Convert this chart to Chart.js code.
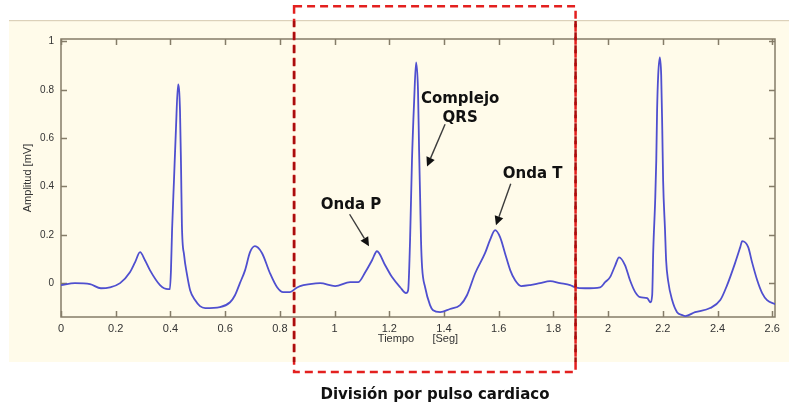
<!DOCTYPE html>
<html>
<head>
<meta charset="utf-8">
<script src="https://cdn.jsdelivr.net/npm/chart.js@4.4.1/dist/chart.umd.min.js"></script>
<style>
  html, body { margin: 0; padding: 0; background: #fff; }
  #ecg { display: block; }
</style>
</head>
<body>
<canvas id="ecg" width="789" height="402"></canvas>
<script>
// señal ECG: tiempo [s] y amplitud [mV]
const timeSec = [
  0, 0.051, 0.106, 0.146, 0.179, 0.216, 0.252, 0.271, 0.289, 0.307, 0.325, 0.362, 0.391, 0.398,
  0.402, 0.406, 0.413, 0.420, 0.428, 0.435, 0.439, 0.442, 0.450, 0.461, 0.472, 0.490, 0.508, 0.527,
  0.581, 0.618, 0.636, 0.654, 0.673, 0.691, 0.709, 0.735, 0.764, 0.790, 0.812, 0.837, 0.859, 0.874,
  0.910, 0.947, 1.002, 1.057, 1.086, 1.112, 1.137, 1.155, 1.185, 1.210, 1.240, 1.261, 1.269, 1.276,
  1.283, 1.291, 1.298, 1.305, 1.309, 1.313, 1.316, 1.320, 1.331, 1.349, 1.360, 1.386, 1.422, 1.459,
  1.484, 1.514, 1.550, 1.568, 1.587, 1.605, 1.623, 1.642, 1.660, 1.682, 1.715, 1.751, 1.788, 1.824,
  1.861, 1.879, 1.916, 1.971, 1.989, 2.007, 2.026, 2.040, 2.062, 2.080, 2.099, 2.117, 2.143, 2.154,
  2.161, 2.165, 2.172, 2.176, 2.179, 2.183, 2.189, 2.194, 2.198, 2.201, 2.208, 2.212, 2.219, 2.234,
  2.252, 2.271, 2.282, 2.318, 2.373, 2.410, 2.435, 2.464, 2.483, 2.490, 2.512, 2.526, 2.545, 2.563,
  2.581, 2.611
];
const amplitudeMv = [
  -0.008, 0, -0.004, -0.021, -0.017, 0, 0.045, 0.087, 0.128, 0.095, 0.054, -0.008, -0.025, -0.025,
  0.054, 0.219, 0.426, 0.632, 0.822, 0.715, 0.467, 0.240, 0.116, 0.033, -0.029, -0.070, -0.095, -0.103,
  -0.099, -0.079, -0.050, 0, 0.054, 0.128, 0.153, 0.124, 0.041, -0.017, -0.037, -0.037, -0.021, -0.012,
  -0.004, 0, -0.012, 0.004, 0.004, 0.045, 0.095, 0.132, 0.074, 0.025, -0.017, -0.041, -0.029, 0.178,
  0.508, 0.756, 0.913, 0.798, 0.550, 0.343, 0.178, 0.066, -0.017, -0.091, -0.112, -0.120, -0.107, -0.091,
  -0.050, 0.041, 0.124, 0.178, 0.219, 0.190, 0.124, 0.054, 0.012, -0.012, -0.008, 0, 0.008, 0,
  -0.008, -0.017, -0.021, -0.017, 0.004, 0.025, 0.074, 0.107, 0.074, 0.012, -0.037, -0.058, -0.062, -0.079,
  -0.050, 0.136, 0.343, 0.508, 0.715, 0.860, 0.934, 0.860, 0.632, 0.426, 0.219, 0.095, 0.012, -0.070,
  -0.120, -0.132, -0.136, -0.120, -0.103, -0.070, -0.008, 0.083, 0.149, 0.174, 0.149, 0.087, 0.012, -0.041,
  -0.070, -0.087
];

const xTickValues = [0, 0.2, 0.4, 0.6, 0.8, 1, 1.2, 1.4, 1.6, 1.8, 2, 2.2, 2.4, 2.6];
const xTickLabels = ['0', '0.2', '0.4', '0.6', '0.8', '1', '1.2', '1.4', '1.6', '1.8', '2', '2.2', '2.4', '2.6'];
const yTickValues = [0, 0.2, 0.4, 0.6, 0.8, 1];
const yTickLabels = ['0', '0.2', '0.4', '0.6', '0.8', '1'];

// etiquetas con flecha (coordenadas de datos)
const notes = [
  { lines: ['Complejo', 'QRS'], at: [1.459, 0.744], from: [1.404, 0.657], to: [1.338, 0.483] },
  { lines: ['Onda T'], at: [1.724, 0.433], from: [1.644, 0.411], to: [1.590, 0.240] },
  { lines: ['Onda P'], at: [1.060, 0.306], from: [1.055, 0.285], to: [1.126, 0.153] }
];
// recuadro de un pulso
const pulseBox = { t0: 0.852, t1: 1.881, v0: -0.368, v1: 1.145 };

const AXIS_COLOR = '#857c68';
const TEXT_COLOR = '#333333';

function arrow(ctx, x1, y1, x2, y2) {
    const ang = Math.atan2(y2 - y1, x2 - x1);
    const len = 9, half = 4.5;
    const bx = x2 - Math.cos(ang) * len, by = y2 - Math.sin(ang) * len;
    ctx.strokeStyle = '#3c3c3c';
    ctx.lineWidth = 1.4;
    ctx.beginPath();
    ctx.moveTo(x1, y1);
    ctx.lineTo(bx, by);
    ctx.stroke();
    ctx.fillStyle = '#111';
    ctx.beginPath();
    ctx.moveTo(x2, y2);
    ctx.lineTo(bx + Math.sin(ang) * half, by - Math.cos(ang) * half);
    ctx.lineTo(bx - Math.sin(ang) * half, by + Math.cos(ang) * half);
    ctx.closePath();
    ctx.fill();
}

const decor = {
    id: 'decor',
    beforeDraw(chart) {
        const ctx = chart.ctx;
        ctx.save();
        ctx.fillStyle = '#ffffff';
        ctx.fillRect(0, 0, chart.width, chart.height);
        ctx.fillStyle = '#fffbea';
        ctx.fillRect(9, 20, chart.width - 9, 342);
        ctx.fillStyle = '#dcd1ba';
        ctx.fillRect(9, 20, chart.width - 9, 1.2);
        ctx.restore();
    },
    beforeDatasetsDraw(chart) {
        const { ctx, chartArea: a, scales: { x, y } } = chart;
        ctx.save();
        ctx.strokeStyle = AXIS_COLOR;
        ctx.lineWidth = 1.5;
        ctx.strokeRect(a.left, a.top, a.right - a.left, a.bottom - a.top);
        const tl = 6;
        ctx.beginPath();
        xTickValues.forEach(v => {
            const px = Math.round(x.getPixelForValue(v)) + 0.5;
            ctx.moveTo(px, a.bottom); ctx.lineTo(px, a.bottom - tl);
            ctx.moveTo(px, a.top); ctx.lineTo(px, a.top + tl);
        });
        yTickValues.forEach(v => {
            const py = Math.round(y.getPixelForValue(v)) + 0.5;
            ctx.moveTo(a.left, py); ctx.lineTo(a.left + tl, py);
            ctx.moveTo(a.right, py); ctx.lineTo(a.right - tl, py);
        });
        ctx.stroke();

        // títulos de ejes
        ctx.fillStyle = TEXT_COLOR;
        ctx.font = '11px "Liberation Sans", Arial, sans-serif';
        ctx.textAlign = 'center';
        ctx.textBaseline = 'middle';
        ctx.fillText('Tiempo      [Seg]', (a.left + a.right) / 2, 339);
        ctx.translate(28, (a.top + a.bottom) / 2);
        ctx.rotate(-Math.PI / 2);
        ctx.fillText('Amplitud [mV]', 0, 0);
        ctx.restore();
    },
    afterDraw(chart) {
        const { ctx, scales: { x, y } } = chart;
        ctx.save();
        // notas
        ctx.fillStyle = '#111';
        ctx.font = 'bold 15px "DejaVu Sans", Verdana, sans-serif';
        ctx.textAlign = 'center';
        ctx.textBaseline = 'alphabetic';
        notes.forEach(n => {
            const tx = x.getPixelForValue(n.at[0]), ty = y.getPixelForValue(n.at[1]);
            n.lines.forEach((s, i) => ctx.fillText(s, tx, ty + i * 18.5));
            arrow(ctx, x.getPixelForValue(n.from[0]), y.getPixelForValue(n.from[1]),
                       x.getPixelForValue(n.to[0]), y.getPixelForValue(n.to[1]));
        });

        // recuadro rojo discontinuo
        const bl = x.getPixelForValue(pulseBox.t0), br = x.getPixelForValue(pulseBox.t1);
        const bt = y.getPixelForValue(pulseBox.v1), bb = y.getPixelForValue(pulseBox.v0);
        ctx.setLineDash([8, 5]);
        ctx.lineWidth = 2.5;
        ctx.strokeStyle = '#e3201f';
        ctx.strokeRect(bl, bt, br - bl, bb - bt);
        ctx.save();
        ctx.beginPath();
        ctx.rect(0, 21, chart.width, 341);
        ctx.clip();
        ctx.strokeStyle = '#a90d0d';
        ctx.beginPath();
        ctx.moveTo(bl, bt); ctx.lineTo(bl, bb);
        ctx.moveTo(br, bt); ctx.lineTo(br, bb);
        ctx.stroke();
        ctx.restore();
        ctx.setLineDash([]);

        // pie
        ctx.fillStyle = '#111';
        ctx.font = 'bold 15px "DejaVu Sans", Verdana, sans-serif';
        ctx.fillText('División por pulso cardiaco', 435, 399);
        ctx.restore();
    }
};

new Chart(document.getElementById('ecg'), {
    type: 'line',
    data: {
        datasets: [{
            data: timeSec.map((t, i) => ({ x: t, y: amplitudeMv[i] })),
            borderColor: '#4f4fcf',
            borderWidth: 1.8,
            pointRadius: 0,
            cubicInterpolationMode: 'monotone',
            fill: false
        }]
    },
    options: {
        responsive: false,
        animation: false,
        devicePixelRatio: 1,
        layout: { padding: { top: 39, right: 14, left: 0, bottom: 0 } },
        plugins: { legend: { display: false }, tooltip: { enabled: false } },
        scales: {
            x: {
                type: 'linear',
                min: 0,
                max: 2.61,
                grid: { display: false, drawTicks: false },
                border: { display: false },
                afterBuildTicks: s => { s.ticks = xTickValues.map(v => ({ value: v })); },
                afterFit: s => { s.height = 85; },
                ticks: {
                    autoSkip: false, maxRotation: 0, padding: 5,
                    color: TEXT_COLOR,
                    font: { family: '"Liberation Sans", Arial, sans-serif', size: 11 },
                    callback: (v, i) => xTickLabels[i]
                }
            },
            y: {
                min: -0.14,
                max: 1.01,
                grid: { display: false, drawTicks: false },
                border: { display: false },
                afterBuildTicks: s => { s.ticks = yTickValues.map(v => ({ value: v })); },
                afterFit: s => { s.width = 61; },
                ticks: {
                    autoSkip: false, padding: 7,
                    color: TEXT_COLOR,
                    font: { family: '"Liberation Sans", Arial, sans-serif', size: 10 },
                    callback: (v, i) => yTickLabels[i]
                }
            }
        }
    },
    plugins: [decor]
});
</script>
</body>
</html>
